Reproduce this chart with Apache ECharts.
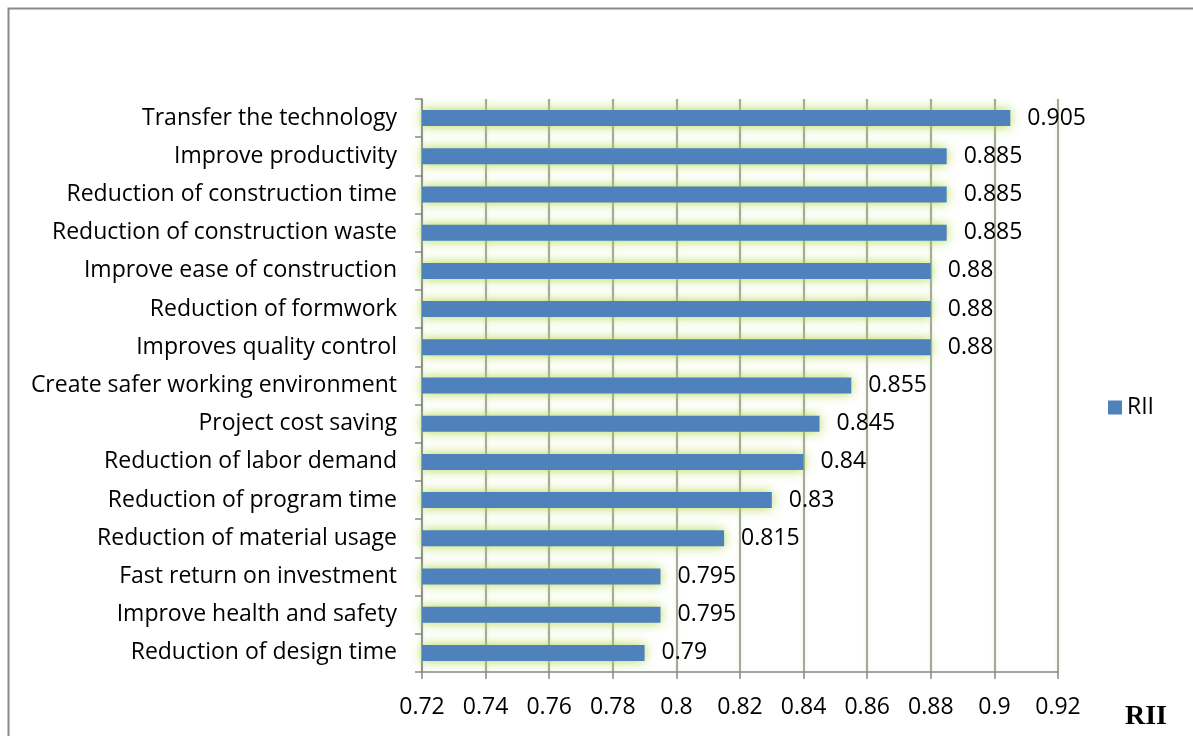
<!DOCTYPE html>
<html>
<head>
<meta charset="utf-8">
<script src="https://cdn.jsdelivr.net/npm/echarts@6/dist/echarts.min.js"></script>
<style>
html,body{margin:0;padding:0;background:#fff;}
#chart{width:1193px;height:736px;}
</style>
</head>
<body>
<div id="chart"></div>
<script>
const categories = [
  "Transfer the technology",
  "Improve productivity",
  "Reduction of construction time",
  "Reduction of construction waste",
  "Improve ease of construction",
  "Reduction of formwork",
  "Improves quality control",
  "Create safer working environment",
  "Project cost saving",
  "Reduction of labor demand",
  "Reduction of program time",
  "Reduction of material usage",
  "Fast return on investment",
  "Improve health and safety",
  "Reduction of design time"
];
const riiValues = [0.905, 0.885, 0.885, 0.885, 0.88, 0.88, 0.88, 0.855, 0.845, 0.84, 0.83, 0.815, 0.795, 0.795, 0.79];
const seriesName = "RII";
const axisTitle = "RII";

const chart = echarts.init(document.getElementById('chart'));
const font = "'Open Sans', 'Noto Sans', sans-serif";
chart.setOption({
  animation: false,
  backgroundColor: '#fff',
  grid: { left: 422, right: 135, top: 99, bottom: 64, containLabel: false },
  legend: {
    data: [seriesName],
    left: 1103, top: 391,
    itemWidth: 14, itemHeight: 14, itemGap: 6,
    icon: 'rect',
    textStyle: { fontFamily: font, fontSize: 23, color: '#000' }
  },
  xAxis: {
    type: 'value', min: 0.72, max: 0.92, interval: 0.02,
    axisLine: { show: true, lineStyle: { color: '#888', width: 1.5 } },
    axisTick: { show: true, length: 7, lineStyle: { color: '#888', width: 1.5 } },
    axisLabel: { fontFamily: font, fontSize: 23, color: '#000', margin: 24,
      formatter: v => String(+v.toFixed(2)) },
    splitLine: { show: true, lineStyle: { color: '#8c8c8c', width: 1.5,
      shadowColor: 'rgba(150,190,60,0.4)', shadowBlur: 3 } }
  },
  yAxis: {
    type: 'category', data: categories, inverse: true,
    axisLine: { show: true, lineStyle: { color: '#888', width: 1.5 } },
    axisTick: { show: true, length: 7, lineStyle: { color: '#888', width: 1.5 } },
    axisLabel: { fontFamily: font, fontSize: 23, color: '#000', margin: 25 }
  },
  series: [{
    name: seriesName, type: 'bar', data: riiValues, barWidth: 16,
    itemStyle: { color: '#4F81BD', shadowColor: 'rgba(170,215,60,0.95)', shadowBlur: 12 },
    label: { show: true, position: 'right', distance: 17, fontFamily: font, fontSize: 23, color: '#000',
      formatter: p => String(p.value) }
  }],
  graphic: [
    { type: 'rect', shape: { x: 8.5, y: 8.5, width: 1300, height: 900 },
      style: { fill: 'none', stroke: '#8a8a8a', lineWidth: 2 }, silent: true },
    { type: 'text', left: 1125, top: 703,
      style: { text: axisTitle, font: "bold 28px 'Liberation Serif', serif", fill: '#000' } }
  ]
});
</script>
</body>
</html>
